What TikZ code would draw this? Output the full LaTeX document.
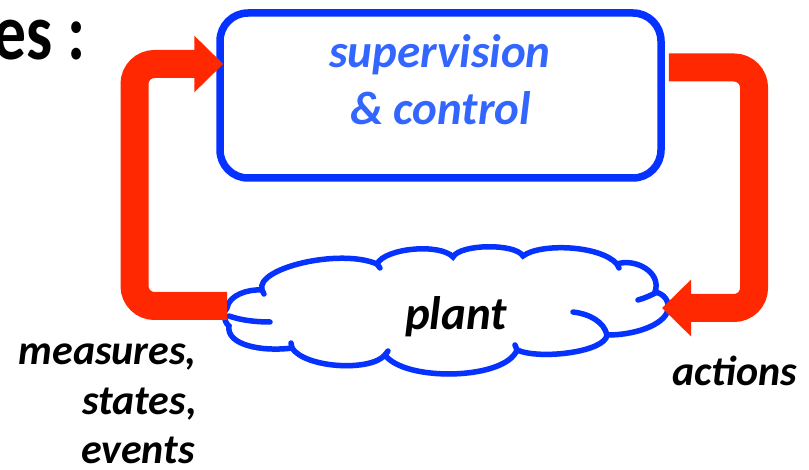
\documentclass[tikz,border=0pt]{standalone}
\usepackage{fontspec}
\setmainfont{Carlito}
\usetikzlibrary{arrows.meta,calc,shadows}
\definecolor{boxblue}{RGB}{5,50,255}
\definecolor{textblue}{RGB}{51,102,255}
\definecolor{loopred}{RGB}{255,40,0}
\tikzset{
  softshadow/.style={drop shadow={opacity=0.18, shadow xshift=1pt, shadow yshift=-3pt}},
  panel/.style={draw=boxblue, line width=7.5pt, rounded corners=28pt, fill=white,
    minimum width=441pt, minimum height=165pt, inner sep=0pt, softshadow},
  band/.style={draw=loopred, line width=28pt, rounded corners=20pt},
  bandtip/.style={-{Triangle[width=55pt,length=29pt]}},
  cloudline/.style={draw=boxblue, line width=5.5pt, line cap=round},
  bigtxt/.style={font=\fontsize{47}{50}\selectfont\bfseries\itshape, inner sep=0pt},
  sidetxt/.style={font=\fontsize{42}{50}\selectfont\bfseries\itshape, inner sep=0pt},
}
\begin{document}
\begin{tikzpicture}[x=1pt,y=-1pt]
\useasboundingbox (0,0) rectangle (809,470);

% heading fragment
\node[anchor=base east, inner sep=0pt, font=\fontsize{80}{90}\selectfont\bfseries]
  (head) at (86,60) {\scalebox{0.82}[1]{es :}};

% controller box
\node[panel] (box) at (440.5,95.5) {};
\node[bigtxt, text=textblue, anchor=base] (sup) at (440,68) {supervision};
\node[bigtxt, text=textblue, anchor=base] (ctl) at (440.5,125) {\& control};

% plant cloud
\coordinate (cloudL) at (227,306);
\coordinate (cloudR) at (662,308);
\path[fill=white, cloudline, softshadow]
  (227,308) .. controls (229,295) and (248,289) .. (262,290)
  .. controls (255,268) and (340,248) .. (377,264)
  .. controls (385,248) and (440,243) .. (453,257)
  .. controls (460,244) and (515,243) .. (523,256)
  .. controls (540,243) and (600,245) .. (617,264)
  .. controls (635,258) and (662,272) .. (655,292)
  .. controls (665,294) and (669,302) .. (668,308)
  .. controls (668,322) and (640,335) .. (607,335)
  .. controls (605,352) and (540,360) .. (517,350)
  .. controls (505,380) and (405,382) .. (385,355)
  .. controls (370,372) and (305,368) .. (292,348)
  .. controls (262,352) and (226,345) .. (229,326)
  .. controls (224,322) and (222,312) .. (227,308) -- cycle;
% inner folds of the cloud
\draw[cloudline] (229,316) .. controls (240,320) and (255,322) .. (270,322);
\draw[cloudline] (573,312) .. controls (590,314) and (604,322) .. (607,335);
\draw[cloudline] (638,300) .. controls (645,298) and (652,295) .. (657,292);
\draw[cloudline] (262,290) -- (264,294);
\draw[cloudline] (377,264) -- (380,268);
\draw[cloudline] (617,264) -- (619,268);
\draw[cloudline] (517,350) -- (515,345);
\draw[cloudline] (385,355) -- (388,351);
\draw[cloudline] (292,348) -- (291,343);
\node[bigtxt, anchor=base] (plant) at (456,330) {plant};

% feedback loop
\draw[band, bandtip] ($(box.east)+(4,-28)$) -- (754,67.5) -- (754,308) -- (cloudR);
\draw[band, bandtip] (cloudL) -- (134.5,306) -- (134.5,64) -- ($(box.west)+(7,-31.5)$);

% signal labels
\node[sidetxt, anchor=base east] (m1) at (197,365) {measures,};
\node[sidetxt, anchor=base east] (m2) at (197,414) {states,};
\node[sidetxt, anchor=base east] (m3) at (195,463) {events};
\node[sidetxt, anchor=base west] (act) at (672,385) {actions};
\end{tikzpicture}
\end{document}
